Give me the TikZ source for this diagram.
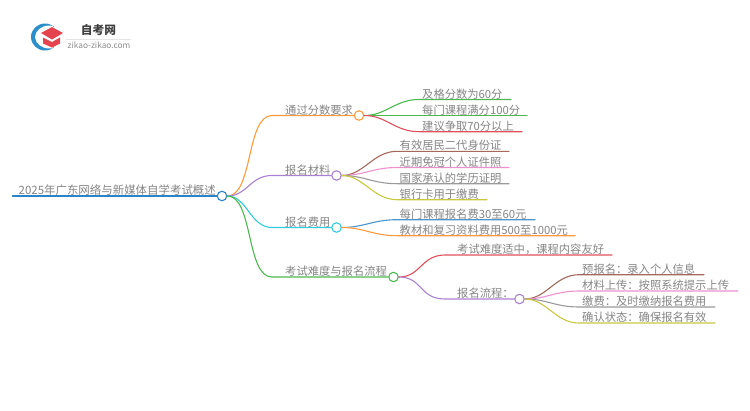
\documentclass[tikz,border=0pt]{standalone}
\usepackage{fontspec}
\setmainfont{Noto Sans CJK SC}
\definecolor{cOrange}{HTML}{FF9A3C}
\definecolor{cGreen}{HTML}{4DB850}
\definecolor{cRed}{HTML}{E0505C}
\definecolor{cBrown}{HTML}{A5685C}
\definecolor{cPink}{HTML}{EE90D0}
\definecolor{cGray}{HTML}{9A9A9A}
\definecolor{cOlive}{HTML}{C8C840}
\definecolor{cBlue}{HTML}{4A94CC}
\definecolor{cCyan}{HTML}{30CCDD}
\definecolor{cPurple}{HTML}{AA80D2}
\definecolor{cRoot}{HTML}{2A84C8}
\definecolor{cText}{HTML}{858585}
\tikzset{
  lbl/.style={anchor=base west,inner sep=0pt,text=cText,font=\fontsize{11.3}{13}\selectfont},
  hub/.style={circle,draw=#1,fill=white,line width=1.1pt,minimum size=9.5pt,inner sep=0pt},
  wire/.style={draw=#1,line width=1.1pt,line cap=round},
  pt/.style={inner sep=0pt,minimum size=0pt}
}
\newcommand{\branch}[6]{% colour, from node, bend x, y, end x, reach
  \coordinate (#6b) at (#3,#4);
  \coordinate (#6e) at (#5,#4);
  \draw[wire=#1] (#2) .. controls +(22,0) and +(-24,0) .. (#6b) -- (#6e);
}
\begin{document}
\begin{tikzpicture}[x=1pt,y=-1pt]
\useasboundingbox (0,0) rectangle (750,410);
% logo
\fill[cRoot!85!cCyan,even odd rule] (45,37) circle[x radius=14,y radius=13.5] (49,37) circle[x radius=14,y radius=11.5];
\fill[white] (53.5,22) rectangle (63,52);
\fill[cRed!85!red] (41,33) -- (52,27) -- (63,33) -- (52,39.5) -- cycle;
\fill[cRed!85!red] (43,37.5) -- (52,42) -- (60,37.5) -- (60,43.5) -- (52,47.5) -- (43,43.5) -- cycle;
\node[anchor=center,inner sep=0pt,text=black!75,font=\bfseries\fontsize{11.7}{13}\selectfont] (logot) at (98.5,30) {自考网};
\coordinate (logoa) at (66,39); \coordinate (logob) at (131,39);
\draw[black!10,line width=0.6pt] (logoa) -- (logob);
\node[anchor=center,inner sep=0pt,text=black!45,font=\fontsize{8.3}{9}\selectfont] (logou) at (99,45) {zikao-zikao.com};

% root
\node[hub=cRoot] (root) at (222,196) {};
\coordinate (rootw) at (12.5,196);
\draw[wire=cRoot] (rootw) -- (root.west);
\node[lbl,font=\fontsize{11.45}{13}\selectfont] (roott) at (18.5,194.5) {2025年广东网络与新媒体自学考试概述};

% first level
\node[hub=cOrange] (a) at (359,115.5) {};
\node[hub=cPurple] (b) at (336.5,175.5) {};
\node[hub=cCyan] (c) at (336.5,227.5) {};
\node[hub=cGreen] (d) at (393.5,277) {};
\coordinate (ab) at (272,115.5);
\coordinate (bb) at (272,175.5);
\coordinate (cb) at (272,227.5);
\coordinate (db) at (272,277);
\draw[wire=cOrange] (root.east) .. controls +(26,0) and +(-26,0) .. (ab) -- (a.west);
\draw[wire=cPurple] (root.east) .. controls +(20,0) and +(-22,0) .. (bb) -- (b.west);
\draw[wire=cCyan] (root.east) .. controls +(20,0) and +(-22,0) .. (cb) -- (c.west);
\draw[wire=cGreen] (root.east) .. controls +(26,0) and +(-26,0) .. (db) -- (d.west);
\node[lbl] (at) at (285,114) {通过分数要求};
\node[lbl] (bt) at (285,174) {报名材料};
\node[lbl] (ct) at (285,226) {报名费用};
\node[lbl] (dt) at (285,275.5) {考试难度与报名流程};

% a children
\branch{cGreen}{a.east}{419}{99.5}{511}{a1}
\branch{cGreen}{a.east}{419}{115.5}{527}{a2}
\branch{cRed}{a.east}{419}{131.7}{522}{a3}
\node[lbl] (a1t) at (422,98) {及格分数为60分};
\node[lbl] (a2t) at (422,114) {每门课程满分100分};
\node[lbl] (a3t) at (422,130.2) {建议争取70分以上};

% b children
\branch{cBrown}{b.east}{397}{151.3}{509}{b1}
\branch{cPink}{b.east}{397}{167.5}{509}{b2}
\branch{cGray}{b.east}{397}{183.7}{509}{b3}
\branch{cOlive}{b.east}{397}{199.7}{487}{b4}
\node[lbl] (b1t) at (399.5,149.8) {有效居民二代身份证};
\node[lbl] (b2t) at (399.5,166) {近期免冠个人证件照};
\node[lbl] (b3t) at (399.5,182.2) {国家承认的学历证明};
\node[lbl] (b4t) at (399.5,198.2) {银行卡用于缴费};

% c children
\branch{cBlue}{c.east}{397}{219.7}{535}{c1}
\branch{cOrange}{c.east}{397}{235.7}{575}{c2}
\node[lbl] (c1t) at (399.5,218.2) {每门课程报名费30至60元};
\node[lbl] (c2t) at (399.5,234.2) {教材和复习资料费用500至1000元};

% d children
\node[hub=cPurple] (e) at (519.5,299) {};
\branch{cRed}{d.east}{445}{255}{612}{d1}
\coordinate (d2b) at (445,299);
\draw[wire=cPurple] (d.east) .. controls +(24,0) and +(-26,0) .. (d2b) -- (e.west);
\node[lbl] (d1t) at (457,253.5) {考试难度适中，课程内容友好};
\node[lbl] (d2t) at (457,297.5) {报名流程：};

% e children
\branch{cBrown}{e.east}{579}{274.7}{704}{e1}
\branch{cPink}{e.east}{579}{291}{738}{e2}
\branch{cGray}{e.east}{579}{307}{715}{e3}
\branch{cOlive}{e.east}{579}{323}{715}{e4}
\node[lbl] (e1t) at (582,273.2) {预报名：录入个人信息};
\node[lbl] (e2t) at (582,289.5) {材料上传：按照系统提示上传};
\node[lbl] (e3t) at (582,305.5) {缴费：及时缴纳报名费用};
\node[lbl] (e4t) at (582,321.5) {确认状态：确保报名有效};
\end{tikzpicture}
\end{document}
